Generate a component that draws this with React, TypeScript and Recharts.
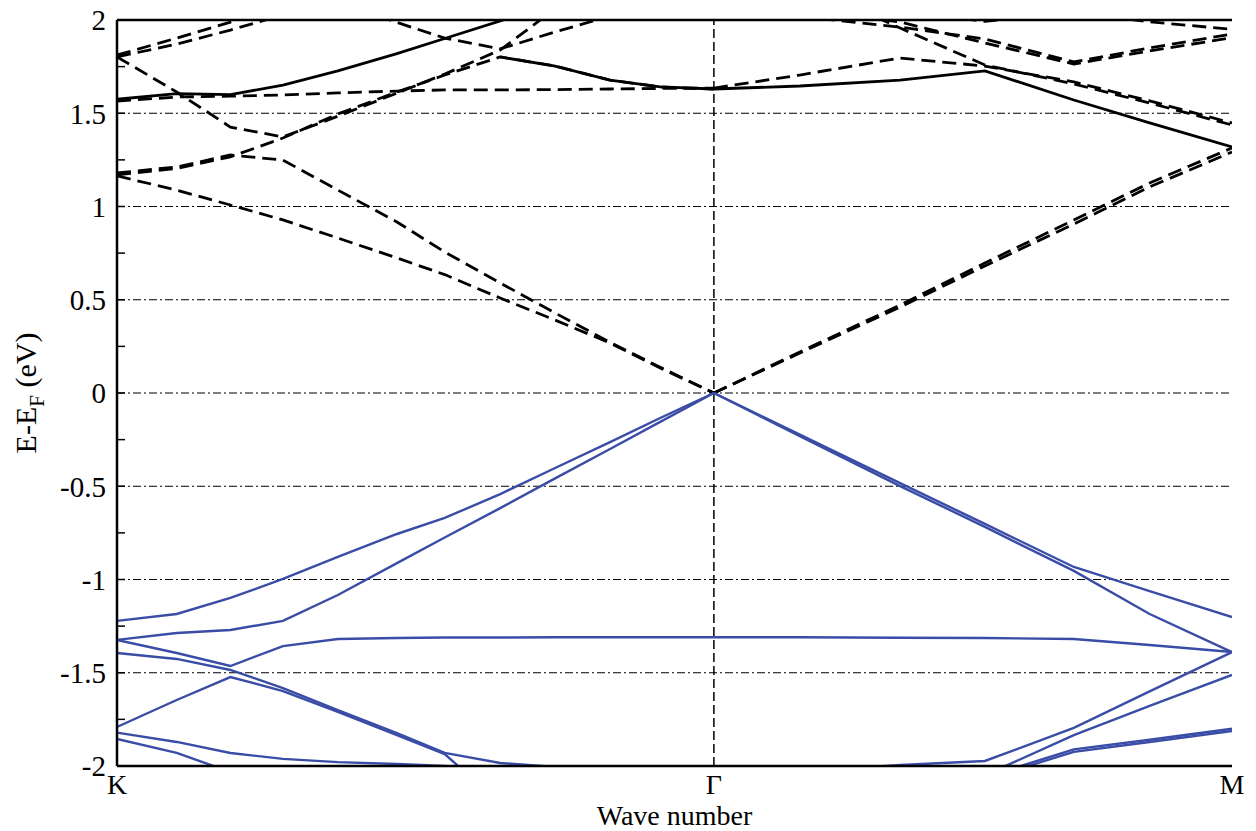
import React from "react";
import { LineChart, Line, XAxis, YAxis, ReferenceLine } from "recharts";

// k-path coordinates (K -> Gamma -> M), |GM|/|KG| = 0.866
const kKG = [0, 0.1, 0.19, 0.278, 0.37, 0.469, 0.549, 0.642, 0.734, 0.826, 0.91, 1];
const kGM = [1, 1.144, 1.312, 1.454, 1.603, 1.73, 1.868];
const kTicks = [0, 1, 1.868];
const kTickLabels = ["K", "Γ", "M"];
const eTicks = [-2, -1.75, -1.5, -1.25, -1, -0.75, -0.5, -0.25, 0, 0.25, 0.5, 0.75, 1, 1.25, 1.5, 1.75, 2];
const gridE = [-1.5, -1, -0.5, 0, 0.5, 1, 1.5];

// valence bands, K-Gamma
const vKG1 = [-1.222, -1.185, -1.099, -0.997, -0.879, -0.756, -0.67, -0.542, -0.402, -0.263, -0.134, 0];
const vKG2 = [-1.324, -1.287, -1.271, -1.222, -1.083, -0.912, -0.775, -0.617, -0.458, -0.3, -0.155, 0];
const vKG3 = [-1.324, -1.394, -1.464, -1.357, -1.319, -1.314, -1.311, -1.311, -1.31, -1.31, -1.31, -1.31];
const vKG4 = [-1.394, -1.426, -1.485, -1.582, -1.7, -1.823, -1.93, -1.984, -2.005, -2.03, -2.05, -2.06];
const vKG5 = [-1.791, -1.646, -1.523, -1.598, -1.71, -1.834, -1.936, -2.2, null, null, null, null];
const vKG6 = [-1.821, -1.871, -1.93, -1.962, -1.979, -1.989, -2.0, -2.02, null, null, null, null];
const vKG7 = [-1.855, -1.93, -2.032, null, null, null, null, null, null, null, null, null];

// valence bands, Gamma-M
const vGM1 = [0, -0.223, -0.483, -0.702, -0.933, -1.062, -1.201];
const vGM2 = [0, -0.231, -0.499, -0.718, -0.954, -1.185, -1.389];
const vGM3 = [-1.31, -1.31, -1.312, -1.314, -1.319, -1.351, -1.389];
const vGM4 = [-2.06, -2.03, -1.995, -1.973, -1.796, -1.6, -1.389];
const vGM5 = [null, null, -2.25, -2.05, -1.834, -1.678, -1.512];
const vGM6 = [null, null, -2.21, -2.06, -1.911, -1.859, -1.8];
const vGM7 = [null, null, -2.22, -2.072, -1.924, -1.871, -1.812];

// conduction bands, K-Gamma
const cKG1 = [1.164, 1.088, 1.008, 0.928, 0.831, 0.724, 0.635, 0.509, 0.391, 0.268, 0.134, 0];
const cKG2 = [1.18, 1.212, 1.276, 1.249, 1.088, 0.917, 0.756, 0.59, 0.429, 0.272, 0.138, 0];
const cKG3 = [1.169, 1.204, 1.266, 1.367, 1.496, 1.614, 1.705, 1.802, 1.753, 1.678, 1.641, 1.63];
const cKG3pair = [null, null, null, null, null, null, null, 1.802, 1.753, 1.678, 1.641, 1.63];
const cKG4 = [1.802, 1.614, 1.426, 1.373, 1.484, 1.608, 1.71, 1.839, 2.06, null, null, null];
const cKG5 = [1.565, 1.587, 1.592, 1.598, 1.609, 1.619, 1.625, 1.625, 1.627, 1.63, 1.633, 1.635];
const cKG6 = [1.575, 1.605, 1.6, 1.651, 1.727, 1.82, 1.901, 1.995, 2.09, null, null, null];
const cKG8 = [1.812, 1.903, 1.989, 2.07, null, null, null, null, null, null, null, null];
const cKG9 = [1.802, 1.871, 1.946, 2.027, 2.1, null, null, null, null, null, null, null];
const cKG10 = [null, null, null, null, 2.09, 1.987, 1.903, 1.845, 1.936, 2.021, null, null];

// conduction bands, Gamma-M
const cGM1 = [0, 0.22, 0.472, 0.697, 0.928, 1.126, 1.314];
const cGM2 = [0, 0.214, 0.461, 0.681, 0.906, 1.105, 1.292];
const cGM3 = [1.63, 1.646, 1.678, 1.727, 1.571, 1.448, 1.319];
const cGM4 = [1.635, 1.705, 1.796, 1.753, 1.668, 1.566, 1.448];
const cGM5 = [null, 2.2, 1.957, 1.759, 1.657, 1.555, 1.437];
const cGM6 = [null, 2.02, 1.962, 1.898, 1.775, 1.85, 1.925];
const cGM7 = [null, 2.06, 1.989, 1.877, 1.764, 1.834, 1.905];
const cGM8 = [null, null, 2.05, 1.993, 2.04, 1.99, 1.95];

type Kind = "v" | "c" | "s";
const bandList: [number[], (number | null)[], Kind][] = [
  [kKG, cKG1, "c"], [kKG, cKG2, "c"], [kKG, cKG3, "c"], [kKG, cKG3pair, "s"],
  [kKG, cKG4, "c"], [kKG, cKG5, "c"], [kKG, cKG6, "s"], [kKG, cKG8, "c"],
  [kKG, cKG9, "c"], [kKG, cKG10, "c"],
  [kGM, cGM1, "c"], [kGM, cGM2, "c"], [kGM, cGM3, "s"], [kGM, cGM4, "c"],
  [kGM, cGM5, "c"], [kGM, cGM6, "c"], [kGM, cGM7, "c"], [kGM, cGM8, "c"],
  [kKG, vKG1, "v"], [kKG, vKG2, "v"], [kKG, vKG3, "v"], [kKG, vKG4, "v"],
  [kKG, vKG5, "v"], [kKG, vKG6, "v"], [kKG, vKG7, "v"],
  [kGM, vGM1, "v"], [kGM, vGM2, "v"], [kGM, vGM3, "v"], [kGM, vGM4, "v"],
  [kGM, vGM5, "v"], [kGM, vGM6, "v"], [kGM, vGM7, "v"],
];

const FONT = "'Liberation Serif', 'DejaVu Serif', serif";
const BLUE = "#3A4DA6";
const txtStyle: React.CSSProperties = { fontFamily: FONT };

const fmtE = (v: number) => (Math.abs(v * 2 - Math.round(v * 2)) < 1e-6 ? String(v) : "");

const LeftTick = (props: any) => {
  const { x, y, payload } = props;
  const label = fmtE(payload.value);
  return (
    <g>
      <line x1={x + 11} x2={x + 19} y1={y} y2={y} stroke="#000" strokeWidth={1.5} />
      {label && (
        <text x={x} y={y} dy="0.36em" textAnchor="end" style={txtStyle} fontSize={29} fill="#000">
          {label}
        </text>
      )}
    </g>
  );
};

const RightTick = (props: any) => {
  const { x, y } = props;
  return <line x1={x - 8} x2={x} y1={y} y2={y} stroke="#000" strokeWidth={1.5} />;
};

const XTick = (props: any) => {
  const { x, y, payload } = props;
  const idx = kTicks.indexOf(payload.value);
  return (
    <text x={x} y={y + 28} textAnchor="middle" style={txtStyle} fontSize={28} fill="#000">
      {kTickLabels[idx]}
    </text>
  );
};

export default function App() {
  return (
    <div
      style={{
        position: "absolute",
        left: 0,
        top: 0,
        width: 1256,
        height: 831,
        overflow: "hidden",
        background: "#fff",
      }}
    >
      <LineChart width={1256} height={831} margin={{ top: 20, right: 24, bottom: 0, left: 0 }}>
        <XAxis
          dataKey="k"
          type="number"
          domain={[0, 1.868]}
          ticks={kTicks}
          allowDataOverflow
          height={65}
          tickSize={0}
          tickMargin={0}
          tick={<XTick />}
          axisLine={{ stroke: "#000", strokeWidth: 2.5 }}
          tickLine={false}
          interval={0}
          label={{
            content: (p: any) => {
              const vb = p.viewBox;
              return (
                <text x={vb.x + vb.width / 2} y={vb.y + 59} textAnchor="middle" style={txtStyle} fontSize={28} fill="#000">
                  Wave number
                </text>
              );
            },
          }}
        />
        <YAxis
          type="number"
          domain={[-2, 2]}
          ticks={eTicks}
          allowDataOverflow
          width={117}
          tickSize={0}
          tickMargin={11}
          tick={<LeftTick />}
          tickLine={false}
          interval={0}
          axisLine={{ stroke: "#000", strokeWidth: 2.5 }}
          label={{
            content: (p: any) => {
              const vb = p.viewBox;
              const cy = vb.y + vb.height / 2;
              return (
                <text transform={`translate(36, ${cy}) rotate(-90)`} textAnchor="middle" style={txtStyle} fontSize={30} fill="#000">
                  <tspan>E-E</tspan>
                  <tspan dy={8} fontSize={21}>F</tspan>
                  <tspan dy={-8}> (eV)</tspan>
                </text>
              );
            },
          }}
        />
        <YAxis
          yAxisId="right"
          orientation="right"
          type="number"
          domain={[-2, 2]}
          ticks={eTicks}
          width={0}
          tickSize={0}
          tickMargin={0}
          tick={<RightTick />}
          tickLine={false}
          interval={0}
          axisLine={{ stroke: "#000", strokeWidth: 2.5 }}
        />
        {gridE.map((e) => (
          <ReferenceLine key={"g" + e} y={e} stroke="#000" strokeWidth={1.2} strokeDasharray="8 3 2 3" />
        ))}
        <ReferenceLine x={1} stroke="#000" strokeWidth={1.5} strokeDasharray="9 4" />
        {bandList.map(([path, vals, kind], i) => (
          <Line
            key={"b" + i}
            data={path.map((k, j) => ({ k, E: vals[j] }))}
            dataKey="E"
            type="linear"
            dot={false}
            activeDot={false}
            isAnimationActive={false}
            connectNulls={false}
            stroke={kind === "v" ? BLUE : "#000"}
            strokeWidth={kind === "v" ? 2.4 : 2.8}
            strokeDasharray={kind === "c" ? "14 7" : undefined}
          />
        ))}
        <ReferenceLine y={2} stroke="#000" strokeWidth={2.5} />
      </LineChart>
    </div>
  );
}
